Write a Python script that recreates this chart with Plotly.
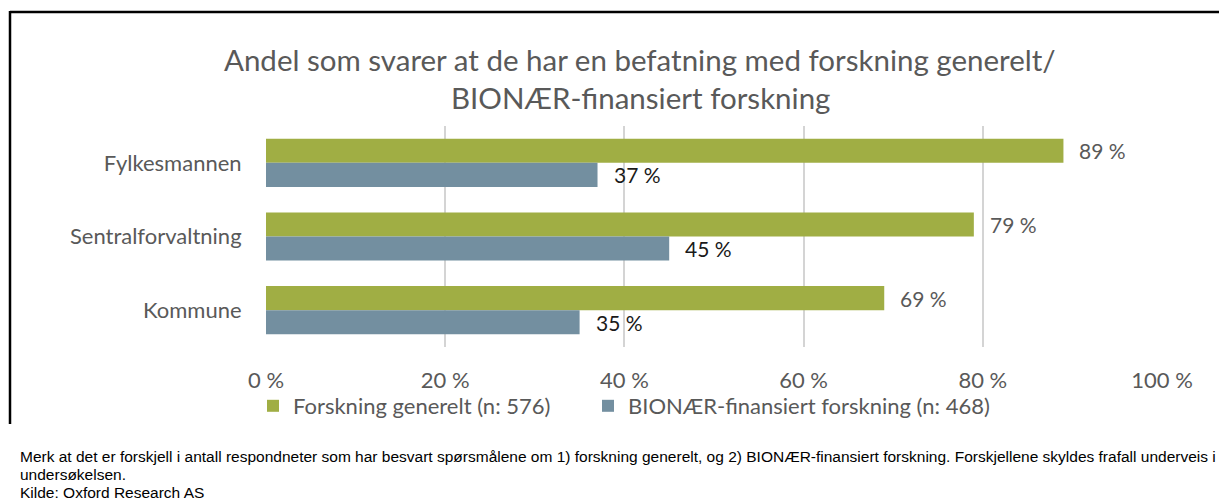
import plotly.graph_objects as go

categories = ["Fylkesmannen", "Sentralforvaltning", "Kommune"]
generelt = [89, 79, 69]
bionaer = [37, 45, 35]
series_names = ["Forskning generelt (n: 576)", "BIONÆR-finansiert forskning (n: 468)"]
tick_vals = [0, 20, 40, 60, 80, 100]
tick_text = ["0 %", "20 %", "40 %", "60 %", "80 %", "100 %"]
title_lines = ["Andel som svarer at de har en befatning med forskning generelt/",
               "BIONÆR-finansiert forskning"]
note_lines = [
    "Merk at det er forskjell i antall respondneter som har besvart spørsmålene om 1) forskning generelt, og 2) BIONÆR-finansiert forskning. Forskjellene skyldes frafall underveis i",
    "undersøkelsen.",
    "Kilde: Oxford Research AS",
]

GREEN = "#A0AE44"
BLUE = "#738FA0"
GRAY = "#595959"
FONT = "Lato"

# the page adds an 8px body margin; work in page pixels and convert
OFF = 8
W, H = 1227 - OFF, 501 - OFF
PL, PR, PT, PB = 266, 1162, 126, 347  # plot area in page pixels
L, T = PL - OFF, PT - OFF
R = W - (PR - OFF)
B = H - (PB - OFF)
PW, PH = PR - PL, PB - PT

def px_x(x):
    return (x - PL) / PW

def px_y(y):
    return (PB - y) / PH

fig = go.Figure()
fig.add_trace(go.Bar(y=categories, x=generelt, name=series_names[0], orientation="h",
                     marker=dict(color=GREEN, line=dict(width=0)), legend="legend"))
fig.add_trace(go.Bar(y=categories, x=bionaer, name=series_names[1], orientation="h",
                     marker=dict(color=BLUE, line=dict(width=0)), legend="legend2"))

annotations = []
off = 0.163
for i, (g, b) in enumerate(zip(generelt, bionaer)):
    annotations.append(dict(x=g, y=i - off, xref="x", yref="y", text=f"{g} %",
                            showarrow=False, xanchor="left", xshift=14,
                            font=dict(family=FONT, size=21, color=GRAY)))
    annotations.append(dict(x=b, y=i + off, xref="x", yref="y", text=f"{b} %",
                            showarrow=False, xanchor="left", xshift=14,
                            font=dict(family=FONT, size=21, color="#1a1a1a")))

for line, yc in zip(title_lines, [60, 97]):
    annotations.append(dict(x=px_x(640), y=px_y(yc), xref="paper", yref="paper",
                            text=line, showarrow=False, xanchor="center", yanchor="middle",
                            font=dict(family=FONT, size=29.5, color=GRAY)))

for line, yc in zip(note_lines, [456, 474, 492]):
    annotations.append(dict(x=px_x(18), y=px_y(yc), xref="paper", yref="paper",
                            text=line, showarrow=False, xanchor="left", yanchor="middle",
                            font=dict(family="Liberation Sans", size=15.5, color="#000000")))

shapes = [
    dict(type="line", xref="paper", yref="paper", x0=px_x(10), x1=px_x(1240),
         y0=px_y(12), y1=px_y(12), line=dict(color="black", width=2.5)),
    dict(type="line", xref="paper", yref="paper", x0=px_x(10), x1=px_x(10),
         y0=px_y(11), y1=px_y(424), line=dict(color="black", width=2.5)),
]

legend_common = dict(orientation="h", yanchor="middle", xanchor="left", itemwidth=30,
                     bgcolor="rgba(0,0,0,0)",
                     font=dict(family=FONT, size=22, color=GRAY))

fig.update_layout(
    width=W, height=H,
    margin=dict(l=L, r=R, t=T, b=B),
    paper_bgcolor="white", plot_bgcolor="white",
    barmode="group", bargap=0.347, bargroupgap=0,
    showlegend=True,
    legend=dict(x=px_x(253), y=px_y(406), **legend_common),
    legend2=dict(x=px_x(588), y=px_y(406), **legend_common),
    annotations=annotations,
    shapes=shapes,
    xaxis=dict(range=[0, 100], tickvals=tick_vals, ticktext=tick_text,
               showgrid=True, gridcolor="#D4D4D4", gridwidth=1.5, zeroline=False,
               showline=False, ticks="outside", ticklen=0, ticklabelstandoff=14,
               tickfont=dict(family=FONT, size=22, color=GRAY), fixedrange=True),
    yaxis=dict(autorange="reversed", showgrid=False, zeroline=False, showline=False,
               ticks="outside", ticklen=0, ticklabelstandoff=19,
               tickfont=dict(family=FONT, size=22, color=GRAY), fixedrange=True),
)

fig.write_html("out.html")
